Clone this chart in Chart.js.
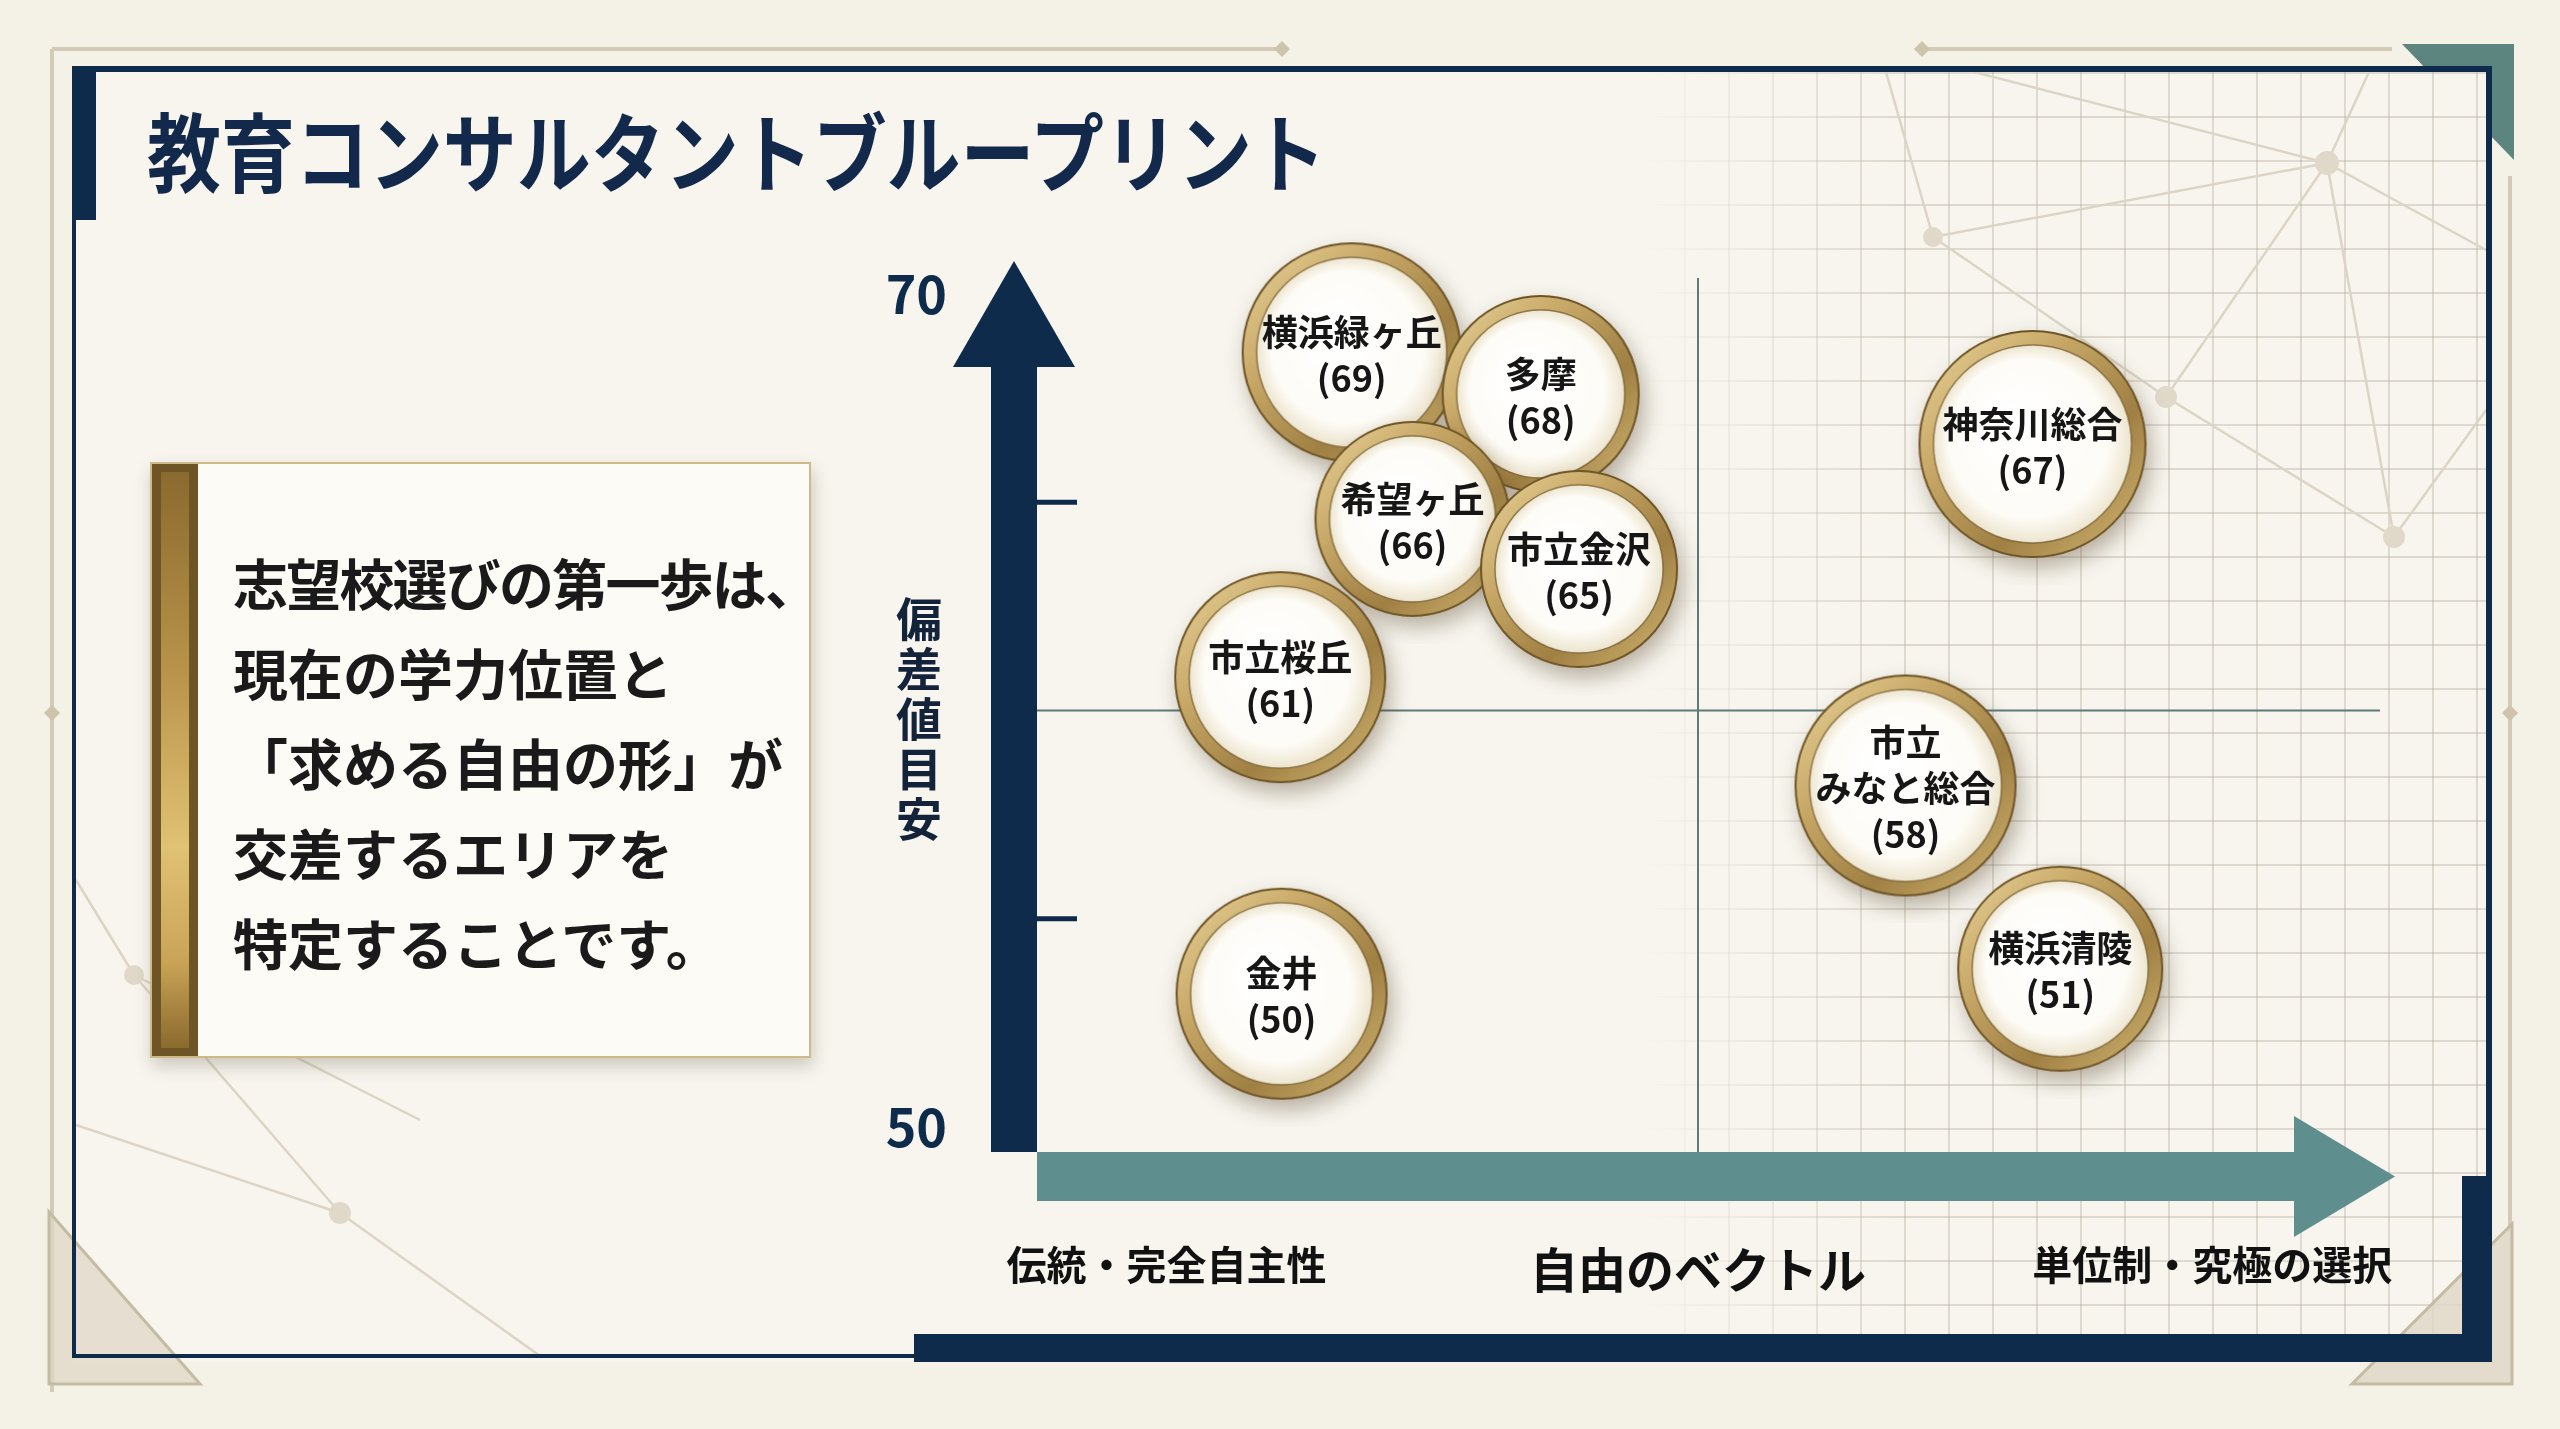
<!DOCTYPE html>
<html lang="ja">
<head>
<meta charset="utf-8">
<title>教育コンサルタントブループリント</title>
<script src="https://cdn.jsdelivr.net/npm/chart.js@4.4.1/dist/chart.umd.min.js"></script>
<style>
  html, body { margin: 0; padding: 0; }
  body {
    width: 2560px; height: 1429px; position: relative; overflow: hidden;
    background: #f4f1e7;
    font-family: "Noto Sans CJK JP", "Noto Sans", sans-serif;
  }
  .abs { position: absolute; }
  #panel { left: 72px; top: 66px; width: 2420px; height: 1296px; background: #f7f5ee; }
  #grid {
    left: 1640px; top: 72px; width: 846px; height: 1262px;
    background-image:
      linear-gradient(to right, rgba(165,155,135,0.30) 2px, transparent 2px),
      linear-gradient(to bottom, rgba(165,155,135,0.30) 2px, transparent 2px);
    background-size: 44px 44px;
    -webkit-mask-image: linear-gradient(to right, transparent 0%, #000 30%);
    mask-image: linear-gradient(to right, transparent 0%, #000 30%);
  }
  .navy { background: #0f2b4c; position: absolute; }
  #title {
    left: 147px; top: 106px; font-size: 86px; font-weight: 700; color: #13294b;
    line-height: 1; white-space: nowrap; transform: scaleX(0.86); transform-origin: left center;
  }
  #note {
    left: 150px; top: 462px; width: 657px; height: 592px;
    background: #fcfbf6; border: 2px solid #cdb98a;
    box-shadow: 2px 8px 16px rgba(60,45,20,0.22);
  }
  #note .bar {
    position: absolute; left: 0; top: 0; width: 46px; height: 100%;
    background: #6e5525;
  }
  #note .bar i {
    position: absolute; left: 9px; top: 8px; right: 9px; bottom: 8px;
    background: linear-gradient(to bottom, #8a6a2e 0%, #b8944a 35%, #e0c274 65%, #c9a456 85%, #8a6a2e 100%);
  }
  #note p {
    position: absolute; left: 81px; top: 72px; margin: 0;
    font-size: 55px; font-weight: 700; line-height: 90px; color: #1a1a1a; white-space: nowrap;
  }
  #note p .tight { letter-spacing: -1.8px; }
  #chart { left: 0; top: 0; }
</style>
</head>
<body>
<svg class="abs" style="left:0;top:0" width="2560" height="1429">
  <g stroke="#d3cbb6" stroke-width="4" fill="none">
    <line x1="52" y1="49" x2="1276" y2="49"/>
    <line x1="1928" y1="49" x2="2392" y2="49"/>
    <line x1="52" y1="49" x2="52" y2="1392"/>
    <line x1="2510" y1="176" x2="2510" y2="1232"/>
  </g>
  <g fill="#cdc4ab">
    <polygon points="1282,41 1290,49 1282,57 1274,49"/>
    <polygon points="1922,41 1930,49 1922,57 1914,49"/>
    <polygon points="52,705 60,713 52,721 44,713"/>
    <polygon points="2510,705 2518,713 2510,721 2502,713"/>
  </g>
  <polygon points="2402,44 2514,44 2514,160" fill="#5d8580"/>
</svg>

<div id="panel" class="abs"></div>
<div id="grid" class="abs"></div>

<svg class="abs" style="left:0;top:0" width="2560" height="1429">
  <g stroke="#dcd5c5" stroke-width="2.5" fill="none">
    <line x1="1933" y1="237" x2="2327" y2="163"/>
    <line x1="1974" y1="72" x2="2327" y2="163"/>
    <line x1="2369" y1="72" x2="2327" y2="163"/>
    <line x1="2327" y1="163" x2="2166" y2="397"/>
    <line x1="2327" y1="163" x2="2486" y2="250"/>
    <line x1="2327" y1="163" x2="2394" y2="537"/>
    <line x1="1933" y1="237" x2="1886" y2="72"/>
    <line x1="1933" y1="237" x2="2166" y2="397"/>
    <line x1="2166" y1="397" x2="2394" y2="537"/>
    <line x1="2394" y1="537" x2="2486" y2="410"/>
    <line x1="134" y1="975" x2="340" y2="1213"/>
    <line x1="340" y1="1213" x2="540" y2="1356"/>
    <line x1="340" y1="1213" x2="76" y2="1125"/>
    <line x1="134" y1="975" x2="76" y2="880"/>
    <line x1="134" y1="975" x2="420" y2="1120"/>
  </g>
  <g fill="#e0d9ca">
    <circle cx="2327" cy="163" r="12"/>
    <circle cx="1933" cy="237" r="10"/>
    <circle cx="2166" cy="397" r="11"/>
    <circle cx="2394" cy="537" r="11"/>
    <circle cx="134" cy="975" r="10"/>
    <circle cx="340" cy="1213" r="11"/>
  </g>
  <polygon points="49,1212 49,1384 200,1384" fill="rgba(222,214,196,0.7)" stroke="#c4bba3" stroke-width="3"/>
  <polygon points="2352,1384 2512,1384 2512,1224" fill="rgba(222,214,196,0.8)" stroke="#c4bba3" stroke-width="3"/>
</svg>

<div class="navy" style="left:72px;top:66px;width:2420px;height:6px"></div>
<div class="navy" style="left:72px;top:66px;width:24px;height:154px"></div>
<div class="navy" style="left:72px;top:66px;width:4px;height:1292px"></div>
<div class="navy" style="left:2486px;top:66px;width:6px;height:1112px"></div>
<div class="navy" style="left:2462px;top:1176px;width:30px;height:186px"></div>
<div class="navy" style="left:914px;top:1334px;width:1578px;height:28px"></div>
<div class="navy" style="left:72px;top:1354px;width:842px;height:4px"></div>

<div id="title" class="abs">教育コンサルタントブループリント</div>

<div id="note" class="abs">
  <div class="bar"><i></i></div>
  <p><span class="tight">志望校選びの第一歩は、</span><br>現在の学力位置と<br>「求める自由の形」が<br>交差するエリアを<br>特定することです。</p>
</div>

<canvas id="chart" class="abs" width="2560" height="1429"></canvas>

<script>
// schools and their 偏差値 (shown in each bubble)
const schools = ['横浜緑ヶ丘', '多摩', '希望ヶ丘', '市立金沢', '市立桜丘', '金井', '神奈川総合', '市立\nみなと総合', '横浜清陵'];
const scores = [69, 68, 66, 65, 61, 50, 67, 58, 51];
// position along 自由のベクトル (0 = 伝統・完全自主性, 100 = 単位制・究極の選択)
const freedom = [23.8, 38.1, 28.4, 41.0, 18.4, 18.5, 75.3, 65.7, 77.4];
// height on the 偏差値 axis as placed in the picture
const placed = [68.6, 67.6, 64.6, 63.4, 60.8, 53.2, 66.4, 58.2, 53.8];
const bubbleR = [109, 98, 97, 98, 105, 105, 113, 110, 102];

const yLabelTicks = [50, 70];
const yMinorTicks = [55, 65];
const yTitle = '偏差値目安';
const xTickValues = [9.8, 50, 88.9];
const xTickLabels = ['伝統・完全自主性', '自由のベクトル', '単位制・究極の選択'];
const midX = 50;
const midY = 60;

const FONT = '"Noto Sans CJK JP", "Noto Sans", sans-serif';
Chart.defaults.font.family = FONT;

const makeCoin = (r) => {
	const pad = 28;
	const s = Math.ceil(2 * (r + pad));
	const c = document.createElement('canvas');
	c.width = s; c.height = s;
	const g = c.getContext('2d');
	const m = s / 2;

	g.save();
	g.shadowColor = 'rgba(70,50,20,0.38)';
	g.shadowBlur = 22;
	g.shadowOffsetX = 5;
	g.shadowOffsetY = 10;
	g.beginPath(); g.arc(m, m, r, 0, Math.PI * 2);
	g.fillStyle = '#b8985a'; g.fill();
	g.restore();

	const lg = g.createLinearGradient(m - r, m - r, m + r, m + r);
	lg.addColorStop(0, '#ead49b');
	lg.addColorStop(0.35, '#c6a665');
	lg.addColorStop(0.65, '#a08043');
	lg.addColorStop(1, '#d4b977');
	g.beginPath(); g.arc(m, m, r, 0, Math.PI * 2);
	g.fillStyle = lg; g.fill();
	g.lineWidth = 2; g.strokeStyle = '#6f5526'; g.stroke();

	const ir = r - 14;
	const rg = g.createRadialGradient(m - ir * 0.2, m - ir * 0.25, ir * 0.1, m, m, ir);
	rg.addColorStop(0, '#ffffff');
	rg.addColorStop(0.78, '#fefcf7');
	rg.addColorStop(1, '#ede5cf');
	g.beginPath(); g.arc(m, m, ir, 0, Math.PI * 2);
	g.fillStyle = rg; g.fill();
	g.lineWidth = 1.5; g.strokeStyle = 'rgba(110,85,40,0.7)'; g.stroke();
	return c;
};

const coins = bubbleR.map(makeCoin);

const blueprint = {
	id: 'blueprint',
	beforeDatasetsDraw(chart) {
		const { ctx, chartArea: a, scales: { x, y } } = chart;
		const mx = x.getPixelForValue(midX);
		const my = y.getPixelForValue(midY);
		const top70 = y.getPixelForValue(70);
		const base = y.getPixelForValue(50) + 25;
		ctx.save();

		ctx.strokeStyle = '#5e7b78';
		ctx.lineWidth = 2;
		ctx.beginPath(); ctx.moveTo(mx, top70 - 16); ctx.lineTo(mx, base); ctx.stroke();
		ctx.beginPath(); ctx.moveTo(a.left, my); ctx.lineTo(a.right + 21, my); ctx.stroke();

		// vertical arrow
		const bw = 46;
		const cx = a.left - bw / 2;
		ctx.fillStyle = '#0f2b4c';
		ctx.fillRect(a.left - bw, top70 + 73, bw, base - (top70 + 73));
		ctx.beginPath();
		ctx.moveTo(cx, top70 - 33);
		ctx.lineTo(cx + 61, top70 + 73);
		ctx.lineTo(cx - 61, top70 + 73);
		ctx.closePath();
		ctx.fill();

		yMinorTicks.forEach((v) => {
			ctx.fillRect(a.left, y.getPixelForValue(v) - 2.5, 40, 5);
		});

		// horizontal arrow
		const headX = a.right - 65;
		ctx.fillStyle = '#5e8e8e';
		ctx.fillRect(a.left, base, headX - a.left, 49);
		ctx.beginPath();
		ctx.moveTo(headX, base - 36);
		ctx.lineTo(a.right + 36, base + 24.5);
		ctx.lineTo(headX, base + 85);
		ctx.closePath();
		ctx.fill();

		ctx.restore();
	},
	afterDatasetsDraw(chart) {
		const { ctx, scales: { y } } = chart;
		const meta = chart.getDatasetMeta(0);
		ctx.save();
		ctx.fillStyle = '#161616';
		ctx.textAlign = 'center';
		ctx.textBaseline = 'middle';
		ctx.font = `bold 36px ${FONT}`;
		meta.data.forEach((pt, i) => {
			const lines = schools[i].split('\n').concat(`(${scores[i]})`);
			const lh = 46;
			const y0 = pt.y - (lines.length - 1) * lh / 2 + 3;
			lines.forEach((l, k) => ctx.fillText(l, pt.x, y0 + k * lh));
		});

		// vertical axis title
		ctx.fillStyle = '#13233a';
		ctx.font = `bold 46px ${FONT}`;
		const chars = [...yTitle];
		const tx = y.left + y.width - 90 - 28;
		const cy = y.getPixelForValue(midY) + 8;
		chars.forEach((ch, k) => {
			ctx.fillText(ch, tx, cy + (k - (chars.length - 1) / 2) * 50);
		});
		ctx.restore();
	}
};

new Chart(document.getElementById('chart'), {
	type: 'bubble',
	data: {
		datasets: [{
			data: schools.map((s, i) => ({ x: freedom[i], y: placed[i], r: bubbleR[i] })),
			pointStyle: (c) => coins[c.dataIndex],
			backgroundColor: '#ffffff',
			borderWidth: 0,
			clip: false
		}]
	},
	options: {
		responsive: false,
		animation: false,
		devicePixelRatio: 1,
		layout: { padding: { left: 787, right: 201, top: 294, bottom: 102 } },
		plugins: { legend: { display: false }, tooltip: { enabled: false } },
		scales: {
			x: {
				type: 'linear', min: 0, max: 100,
				grid: { display: false, drawTicks: false },
				border: { display: false },
				afterBuildTicks: (s) => { s.ticks = xTickValues.map((v) => ({ value: v })); },
				afterFit: (s) => { s.height = 200; },
				ticks: {
					autoSkip: false, maxRotation: 0, color: '#111111',
					padding: 114,
					callback: (v, i) => xTickLabels[i],
					font: (c) => c.index === 1
						? { size: 48, weight: 'bold', family: FONT }
						: { size: 40, weight: 'bold', family: FONT }
				}
			},
			y: {
				type: 'linear', min: 50, max: 70,
				grid: { display: false, drawTicks: false },
				border: { display: false },
				afterBuildTicks: (s) => { s.ticks = yLabelTicks.map((v) => ({ value: v })); },
				afterFit: (s) => { s.width = 250; },
				ticks: {
					padding: 90, color: '#0f2b4c',
					font: { size: 52, weight: 'bold', family: FONT },
					callback: (v) => String(v)
				}
			}
		}
	},
	plugins: [blueprint]
});
</script>
</body>
</html>
